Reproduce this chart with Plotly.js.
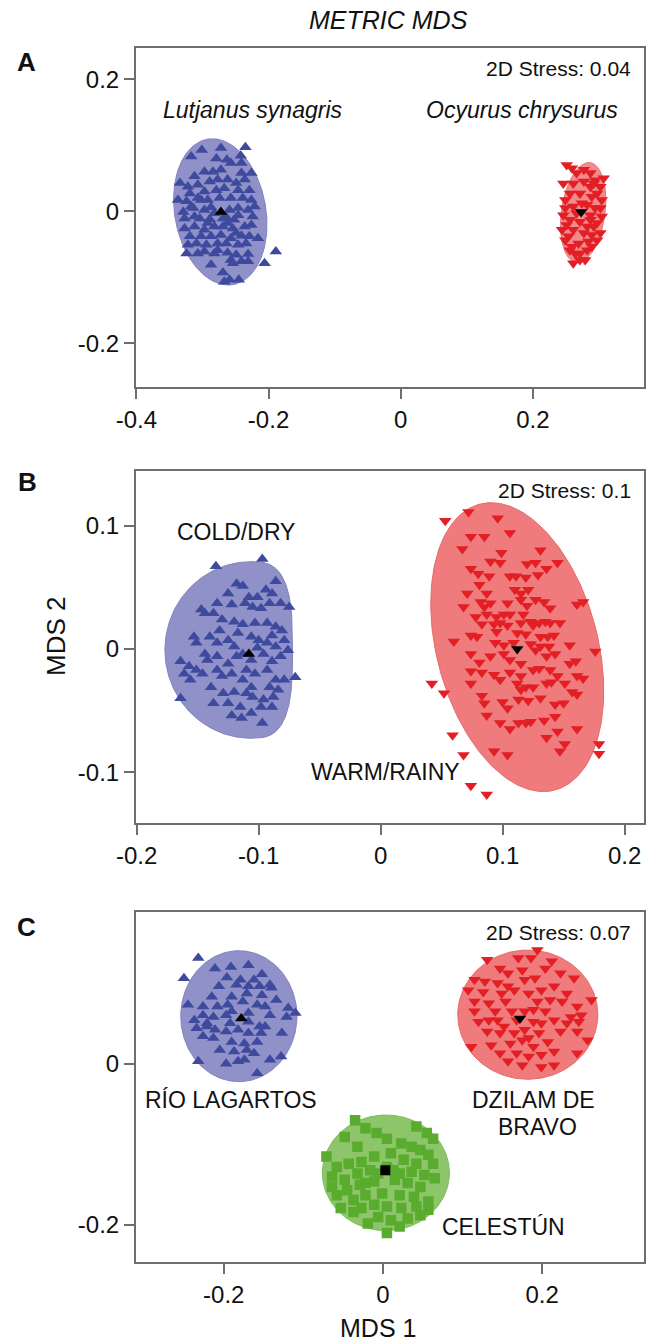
<!DOCTYPE html>
<html>
<head>
<meta charset="utf-8">
<script src="https://cdn.plot.ly/plotly-3.0.1.min.js"></script>
<style>html,body{margin:0;padding:0;background:#fff}#chart{width:653px;height:1343px}</style>
</head>
<body>
<div id="chart"></div>
<script>
// ---------------- DATA ----------------
// Panel A: species
const lutjanusX = [-0.317,-0.301,-0.272,-0.235,-0.263,-0.242,-0.279,-0.257,-0.241,-0.226,
-0.312,-0.297,-0.284,-0.272,-0.241,-0.334,-0.322,-0.307,-0.289,-0.277,
-0.262,-0.249,-0.236,-0.319,-0.297,-0.279,-0.267,-0.246,-0.229,-0.337,
-0.324,-0.307,-0.292,-0.257,-0.239,-0.226,-0.329,-0.314,-0.297,-0.287,
-0.259,-0.246,-0.231,-0.221,-0.327,-0.304,-0.289,-0.264,-0.252,-0.224,
-0.327,-0.312,-0.297,-0.282,-0.269,-0.254,-0.236,-0.226,-0.319,-0.302,
-0.287,-0.272,-0.257,-0.241,-0.229,-0.216,-0.322,-0.309,-0.294,-0.277,
-0.264,-0.246,-0.234,-0.324,-0.307,-0.297,-0.282,-0.262,-0.249,-0.231,
-0.241,-0.257,-0.231,-0.287,-0.269,-0.254,-0.259,-0.245,-0.206,-0.189,
-0.267,-0.302,-0.274,-0.282,-0.246,-0.312,-0.269,-0.292,-0.262,-0.249,
-0.277,-0.317];
const lutjanusY = [0.083,0.093,0.096,0.097,0.078,0.084,0.080,0.073,0.073,0.058,
0.053,0.060,0.060,0.063,0.058,0.043,0.037,0.040,0.045,0.048,
0.048,0.043,0.048,0.027,0.030,0.032,0.035,0.032,0.032,0.017,
0.015,0.020,0.017,0.020,0.020,0.017,-0.001,0.005,0.002,0.006,
0.002,0.005,0.002,0.007,-0.011,-0.011,-0.012,-0.009,-0.013,-0.008,
-0.026,-0.023,-0.028,-0.023,-0.023,-0.026,-0.023,-0.021,-0.038,-0.038,
-0.038,-0.036,-0.041,-0.037,-0.038,-0.041,-0.051,-0.049,-0.051,-0.049,
-0.049,-0.051,-0.049,-0.064,-0.064,-0.061,-0.064,-0.063,-0.066,-0.065,
-0.076,-0.074,-0.076,-0.081,-0.093,-0.079,-0.104,-0.104,-0.079,-0.061,
-0.107,0.017,0.020,-0.003,-0.006,-0.008,-0.011,-0.018,-0.018,-0.033,
-0.059,0.007];
const ocyurusX = [0.251,0.259,0.266,0.307,0.294,0.246,0.302,0.249,0.304,0.246,
0.304,0.244,0.302,0.249,0.297,0.256,0.282,0.261,0.271,0.292,
0.261,0.277,0.287,0.256,0.271,0.289,0.261,0.282,0.294,0.256,
0.271,0.287,0.261,0.277,0.289,0.254,0.269,0.284,0.264,0.279,
0.292,0.266,0.287,0.251,0.297,0.274,0.259,0.289,0.287,0.277,
0.297,0.249,0.302,0.282,0.271];
const ocyurusY = [0.070,0.065,0.058,0.050,0.047,0.042,0.037,0.017,0.017,-0.006,
-0.008,-0.028,-0.033,-0.044,-0.044,-0.059,-0.059,-0.079,-0.064,-0.023,
0.042,0.045,0.037,0.027,0.027,0.022,0.007,0.010,0.005,-0.013,
-0.016,-0.013,-0.028,-0.033,-0.036,-0.038,-0.049,-0.046,-0.064,-0.074,
0.042,-0.003,-0.006,-0.021,-0.018,0.012,-0.054,-0.054,0.058,0.063,
0.027,0.005,0.005,-0.023,-0.074];
const centroidsA_X = [-0.272, 0.273];
const centroidsA_Y = [-0.001, -0.001];

// Panel B: seasons
const coldX = [-0.135,-0.097,-0.118,-0.113,-0.094,-0.086,-0.089,-0.125,-0.108,-0.101,
-0.147,-0.144,-0.137,-0.134,-0.122,-0.111,-0.105,-0.098,-0.091,-0.082,
-0.075,-0.130,-0.120,-0.113,-0.103,-0.093,-0.086,-0.081,-0.153,-0.151,
-0.140,-0.132,-0.125,-0.117,-0.106,-0.100,-0.089,-0.079,-0.076,-0.164,
-0.157,-0.161,-0.142,-0.134,-0.125,-0.118,-0.106,-0.096,-0.089,-0.082,
-0.156,-0.139,-0.130,-0.122,-0.113,-0.103,-0.093,-0.086,-0.079,-0.070,
-0.164,-0.137,-0.129,-0.120,-0.110,-0.105,-0.096,-0.088,-0.125,-0.115,
-0.106,-0.098,-0.089,-0.122,-0.114,-0.097,-0.144,-0.120,-0.113,-0.101,
-0.086,-0.093,-0.134,-0.151,-0.110,-0.134,-0.106,-0.091,-0.084,-0.146];
const coldY = [0.067,0.073,0.053,0.051,0.048,0.055,0.045,0.045,0.042,0.042,
0.032,0.029,0.029,0.037,0.036,0.037,0.034,0.033,0.037,0.037,
0.034,0.024,0.022,0.020,0.021,0.021,0.018,0.015,0.010,0.005,
0.010,0.015,0.007,0.013,0.010,0.007,0.011,0.007,-0.001,-0.010,
-0.014,-0.020,-0.009,-0.006,-0.012,-0.006,-0.009,-0.004,-0.010,-0.006,
-0.025,-0.031,-0.022,-0.020,-0.025,-0.020,-0.017,-0.025,-0.025,-0.023,
-0.040,-0.044,-0.036,-0.035,-0.036,-0.039,-0.041,-0.039,-0.044,-0.047,
-0.052,-0.047,-0.047,-0.054,-0.056,-0.060,-0.004,0.002,-0.004,0.001,
0.002,0.005,0.005,-0.017,-0.017,-0.017,-0.031,-0.031,-0.033,-0.020];
const warmX = [0.053,0.072,0.096,0.106,0.074,0.085,0.067,0.099,0.131,0.090,
0.098,0.120,0.127,0.145,0.136,0.074,0.080,0.089,0.106,0.111,
0.119,0.129,0.081,0.110,0.121,0.115,0.071,0.087,0.068,0.082,
0.085,0.090,0.104,0.115,0.120,0.127,0.134,0.139,0.161,0.166,
0.078,0.087,0.095,0.101,0.106,0.117,0.123,0.130,0.135,0.139,
0.147,0.083,0.093,0.098,0.104,0.115,0.125,0.060,0.074,0.079,
0.095,0.112,0.119,0.131,0.137,0.142,0.094,0.101,0.109,0.123,
0.131,0.138,0.155,0.176,0.074,0.090,0.101,0.106,0.115,0.127,
0.136,0.143,0.155,0.160,0.081,0.083,0.074,0.093,0.098,0.106,
0.115,0.125,0.130,0.139,0.145,0.161,0.166,0.042,0.052,0.074,
0.112,0.119,0.125,0.136,0.140,0.151,0.157,0.161,0.115,0.083,
0.085,0.100,0.104,0.113,0.121,0.131,0.143,0.150,0.087,0.098,
0.106,0.113,0.119,0.123,0.134,0.143,0.145,0.161,0.059,0.136,
0.151,0.147,0.068,0.093,0.104,0.179,0.179,0.074,0.087];
const warmY = [0.104,0.111,0.106,0.094,0.091,0.091,0.081,0.078,0.080,0.071,
0.070,0.069,0.070,0.070,0.065,0.065,0.061,0.059,0.059,0.059,
0.058,0.060,0.052,0.048,0.048,0.045,0.045,0.045,0.034,0.038,
0.034,0.037,0.037,0.040,0.035,0.040,0.038,0.033,0.036,0.038,
0.026,0.028,0.026,0.028,0.028,0.028,0.022,0.021,0.022,0.021,
0.021,0.020,0.020,0.021,0.019,0.021,0.019,0.006,0.011,0.010,
0.014,0.013,0.012,0.010,0.010,0.011,0.005,0.003,0.005,0.004,
0.002,0.002,0.003,-0.002,-0.004,-0.006,-0.004,-0.009,-0.012,-0.001,
-0.006,-0.004,-0.012,-0.010,-0.011,-0.019,-0.018,-0.021,-0.025,-0.019,
-0.022,-0.017,-0.016,-0.017,-0.022,-0.022,-0.024,-0.028,-0.036,-0.028,
-0.028,-0.031,-0.031,-0.028,-0.027,-0.028,-0.035,-0.037,-0.033,-0.038,
-0.044,-0.043,-0.048,-0.041,-0.042,-0.040,-0.045,-0.044,-0.054,-0.060,
-0.065,-0.060,-0.060,-0.059,-0.058,-0.055,-0.067,-0.065,-0.070,-0.072,
-0.077,-0.083,-0.086,-0.083,-0.086,-0.077,-0.085,-0.111,-0.118];
const centroidsB_X = [-0.108, 0.112];
const centroidsB_Y = [-0.004, 0.000];

// Panel C: localities
const rioX = [-0.232,-0.250,-0.211,-0.191,-0.169,-0.152,-0.196,-0.179,-0.162,-0.142,
-0.206,-0.184,-0.169,-0.155,-0.140,-0.215,-0.190,-0.171,-0.152,-0.134,
-0.245,-0.226,-0.208,-0.195,-0.158,-0.148,-0.119,-0.110,-0.226,-0.213,
-0.197,-0.169,-0.142,-0.121,-0.237,-0.221,-0.192,-0.169,-0.155,-0.197,
-0.182,-0.169,-0.153,-0.127,-0.226,-0.213,-0.190,-0.174,-0.158,-0.205,
-0.187,-0.171,-0.162,-0.142,-0.128,-0.232,-0.197,-0.182,-0.174,-0.158,
-0.221,-0.234,-0.211,-0.148,-0.190,-0.176];
const rioY = [0.131,0.106,0.118,0.120,0.122,0.111,0.107,0.104,0.104,0.098,
0.096,0.098,0.096,0.096,0.094,0.083,0.083,0.087,0.085,0.079,
0.073,0.071,0.071,0.073,0.073,0.071,0.069,0.063,0.060,0.058,
0.060,0.063,0.060,0.058,0.054,0.050,0.050,0.052,0.046,0.040,
0.042,0.038,0.038,0.038,0.034,0.032,0.027,0.025,0.027,0.017,
0.015,0.017,0.013,0.005,0.009,0.003,0.000,0.003,0.005,-0.012,
0.046,0.044,0.042,0.046,0.065,0.077];
const dzilamX = [0.194,0.131,0.170,0.186,0.212,0.147,0.157,0.175,0.204,0.223,
0.240,0.115,0.128,0.144,0.157,0.178,0.191,0.215,0.107,0.126,
0.149,0.165,0.183,0.199,0.231,0.262,0.115,0.133,0.154,0.194,
0.210,0.225,0.244,0.115,0.141,0.162,0.189,0.204,0.236,0.249,
0.120,0.133,0.152,0.189,0.199,0.215,0.231,0.246,0.131,0.147,
0.165,0.178,0.196,0.223,0.244,0.111,0.136,0.160,0.175,0.189,
0.207,0.257,0.147,0.168,0.183,0.199,0.215,0.244,0.157,0.175,
0.199,0.215,0.183,0.168,0.144,0.178];
const dzilamY = [0.141,0.129,0.131,0.131,0.127,0.118,0.112,0.116,0.118,0.112,
0.106,0.104,0.102,0.100,0.096,0.104,0.106,0.096,0.091,0.089,
0.087,0.091,0.087,0.091,0.087,0.079,0.077,0.075,0.077,0.077,
0.079,0.077,0.071,0.065,0.065,0.065,0.067,0.065,0.058,0.060,
0.052,0.054,0.046,0.052,0.050,0.054,0.050,0.052,0.040,0.038,
0.038,0.042,0.038,0.040,0.040,0.021,0.023,0.025,0.029,0.021,
0.027,0.029,0.013,0.013,0.009,0.011,0.015,0.013,0.003,-0.002,
-0.004,-0.002,0.032,0.054,0.054,0.065];
const celestunX = [-0.035,-0.022,0.042,0.055,0.063,-0.071,-0.048,-0.032,-0.008,0.005,
0.023,0.036,0.047,0.057,-0.058,-0.043,-0.027,-0.011,0.010,0.026,
0.042,0.063,-0.064,-0.048,-0.032,-0.016,0.005,0.021,0.036,0.052,
0.065,-0.064,-0.045,-0.029,-0.011,0.015,0.031,0.047,-0.058,-0.037,
-0.022,-0.001,0.021,0.039,0.057,-0.027,-0.011,0.005,0.023,0.042,
-0.037,-0.006,0.010,0.031,0.047,0.057,0.005,-0.053,0.021,-0.019,
0.013,-0.006,-0.022];
const celestunY = [-0.070,-0.080,-0.078,-0.086,-0.093,-0.115,-0.091,-0.103,-0.086,-0.093,
-0.099,-0.103,-0.107,-0.113,-0.128,-0.124,-0.122,-0.115,-0.111,-0.119,
-0.124,-0.124,-0.140,-0.144,-0.136,-0.132,-0.128,-0.136,-0.134,-0.138,
-0.142,-0.153,-0.157,-0.150,-0.146,-0.144,-0.148,-0.153,-0.163,-0.169,
-0.163,-0.161,-0.163,-0.165,-0.171,-0.179,-0.175,-0.177,-0.179,-0.177,
-0.184,-0.190,-0.194,-0.192,-0.188,-0.181,-0.210,-0.179,-0.202,-0.198,
-0.132,-0.136,-0.148];
const centroidsC_X = [-0.178, 0.172, 0.003];
const centroidsC_Y = [0.056, 0.056, -0.132];

// Group envelopes: [centre x, centre y, left half-width, right half-width, half-height, left exponent, right exponent, tilt deg]
const envLutjanus = [-0.273, -0.001, 0.069, 0.069, 0.112, 2, 2, 10];
const envOcyurus  = [0.276, -0.002, 0.033, 0.033, 0.0765, 2, 2, -8];
const envCold     = [-0.1063, -0.0008, 0.0705, 0.0341, 0.0716, 2, 3, 0];
const envWarm     = [0.112, 0.0015, 0.066, 0.066, 0.120, 2, 2, 15];
const envRio      = [-0.181, 0.0589, 0.073, 0.073, 0.0812, 2, 2, 0];
const envDzilam   = [0.1819, 0.0608, 0.088, 0.088, 0.0801, 2, 2, 0];
const envCelestun = [0.0037, -0.1353, 0.0798, 0.0798, 0.0717, 2, 2, 0];

// Axis ticks
const ticksAx = [-0.4, -0.2, 0, 0.2], ticksAxText = ['-0.4', '-0.2', '0', '0.2'];
const ticksAy = [-0.2, 0, 0.2], ticksAyText = ['-0.2', '0', '0.2'];
const ticksBx = [-0.2, -0.1, 0, 0.1, 0.2], ticksBxText = ['-0.2', '-0.1', '0', '0.1', '0.2'];
const ticksBy = [-0.1, 0, 0.1], ticksByText = ['-0.1', '0', '0.1'];
const ticksCx = [-0.2, 0, 0.2], ticksCxText = ['-0.2', '0', '0.2'];
const ticksCy = [-0.2, 0], ticksCyText = ['-0.2', '0'];

// ---------------- DRAWING ----------------
const BLUE = '#3e4a9d', RED = '#e31e25', GREEN = '#5aac2e';
const BLUE_F = '#9191c9', RED_F = '#ef7b7c', RED_FA = '#f08a8b', GREEN_F = '#8dc56b';

function envelope(p) {
  const [cx, cy, wl, wr, h, nl, nr, ang] = p;
  const th = ang * Math.PI / 180, xs = [], ys = [];
  for (let i = 0; i <= 240; i++) {
    const t = 2 * Math.PI * i / 240, c = Math.cos(t), s = Math.sin(t);
    const right = c >= 0, n = right ? nr : nl, w = right ? wr : wl;
    const px = w * Math.sign(c) * Math.pow(Math.abs(c), 2 / n);
    const py = h * Math.sign(s) * Math.pow(Math.abs(s), 2 / n);
    xs.push(cx + px * Math.cos(th) - py * Math.sin(th));
    ys.push(cy + px * Math.sin(th) + py * Math.cos(th));
  }
  return [xs, ys];
}
function envTrace(p, fill, line, xa, ya) {
  const [xs, ys] = envelope(p);
  return {x: xs, y: ys, xaxis: xa, yaxis: ya, mode: 'lines', fill: 'toself',
    fillcolor: fill, line: {color: line, width: 1}, hoverinfo: 'skip', type: 'scatter'};
}
function ptTrace(x, y, sym, col, size, xa, ya) {
  return {x: x, y: y, xaxis: xa, yaxis: ya, mode: 'markers', type: 'scatter',
    marker: {symbol: sym, color: col, size: size, line: {width: 0}}, hoverinfo: 'skip'};
}

const TS = 11, SQ = 10.5, CS = 11;
const traces = [
  envTrace(envLutjanus, BLUE_F, '#8282c0', 'x', 'y'),
  envTrace(envOcyurus, RED_FA, '#ea7676', 'x', 'y'),
  ptTrace(lutjanusX, lutjanusY, 'triangle-up', BLUE, TS, 'x', 'y'),
  ptTrace(ocyurusX, ocyurusY, 'triangle-down', RED, TS, 'x', 'y'),
  ptTrace(centroidsA_X.slice(0,1), centroidsA_Y.slice(0,1), 'triangle-up', '#000', CS, 'x', 'y'),
  ptTrace(centroidsA_X.slice(1), centroidsA_Y.slice(1), 'triangle-down', '#000', CS, 'x', 'y'),

  envTrace(envCold, BLUE_F, '#8282c0', 'x2', 'y2'),
  envTrace(envWarm, RED_F, '#e46a6a', 'x2', 'y2'),
  ptTrace(coldX, coldY, 'triangle-up', BLUE, TS, 'x2', 'y2'),
  ptTrace(warmX, warmY, 'triangle-down', RED, TS, 'x2', 'y2'),
  ptTrace(centroidsB_X.slice(0,1), centroidsB_Y.slice(0,1), 'triangle-up', '#000', CS, 'x2', 'y2'),
  ptTrace(centroidsB_X.slice(1), centroidsB_Y.slice(1), 'triangle-down', '#000', CS, 'x2', 'y2'),

  envTrace(envRio, BLUE_F, '#8282c0', 'x3', 'y3'),
  envTrace(envDzilam, RED_F, '#e46a6a', 'x3', 'y3'),
  envTrace(envCelestun, GREEN_F, '#7fbb5c', 'x3', 'y3'),
  ptTrace(rioX, rioY, 'triangle-up', BLUE, TS, 'x3', 'y3'),
  ptTrace(dzilamX, dzilamY, 'triangle-down', RED, TS, 'x3', 'y3'),
  ptTrace(celestunX, celestunY, 'square', GREEN, SQ, 'x3', 'y3'),
  ptTrace(centroidsC_X.slice(0,1), centroidsC_Y.slice(0,1), 'triangle-up', '#000', CS, 'x3', 'y3'),
  ptTrace(centroidsC_X.slice(1,2), centroidsC_Y.slice(1,2), 'triangle-down', '#000', CS, 'x3', 'y3'),
  ptTrace(centroidsC_X.slice(2), centroidsC_Y.slice(2), 'square', '#000', 10, 'x3', 'y3')
];

const W = 653, H = 1343;
const FONT = '"Liberation Sans", Arial, Helvetica, sans-serif';
function ax(range, domain, tv, tt, anchor) {
  return {range: range, domain: domain, anchor: anchor, tickmode: 'array', tickvals: tv, ticktext: tt,
    showline: true, mirror: true, linecolor: '#6e6e6e', linewidth: 2,
    ticks: 'outside', ticklen: 10, tickwidth: 2, tickcolor: '#6e6e6e',
    showgrid: false, zeroline: false, fixedrange: true,
    tickfont: {family: FONT, size: 24, color: '#111'}};
}
const xd = [136 / W, 644 / W];
function yd(top, bottom) { return [1 - bottom / H, 1 - top / H]; }

function ann(text, px, py, size, opts) {
  return Object.assign({text: text, x: px / W, y: 1 - py / H, xref: 'paper', yref: 'paper',
    showarrow: false, xanchor: 'center', yanchor: 'middle',
    font: {family: FONT, size: size, color: '#111'}}, opts || {});
}
const annotations = [
  ann('<i>METRIC MDS</i>', 388, 20, 25),
  ann('<b>A</b>', 26, 62, 26),
  ann('2D Stress: 0.04', 633, 68, 21, {xanchor: 'right'}),
  ann('<i>Lutjanus synagris</i>', 252, 110, 23),
  ann('<i>Ocyurus chrysurus</i>', 522, 110, 23),
  ann('<b>B</b>', 27, 482, 26),
  ann('2D Stress: 0.1', 633, 491, 21, {xanchor: 'right'}),
  ann('COLD/DRY', 236, 532, 23),
  ann('WARM/RAINY', 386, 772, 23),
  ann('MDS 2', 56, 637, 26, {textangle: -90}),
  ann('<b>C</b>', 26, 927, 26),
  ann('2D Stress: 0.07', 633, 932, 21, {xanchor: 'right'}),
  ann('RÍO LAGARTOS', 231, 1100, 23),
  ann('DZILAM DE', 533, 1100, 23),
  ann('BRAVO', 537, 1127, 23),
  ann('CELESTÚN', 503, 1227, 23),
  ann('MDS 1', 378, 1328, 25)
];

const layout = {
  width: W, height: H, margin: {l: 0, r: 0, t: 0, b: 0},
  paper_bgcolor: '#fff', plot_bgcolor: '#fff', showlegend: false,
  font: {family: FONT},
  xaxis: ax([-0.4005, 0.368], xd, ticksAx, ticksAxText, 'y'),
  yaxis: ax([-0.267, 0.248], yd(47.7, 387.3), ticksAy, ticksAyText, 'x'),
  xaxis2: ax([-0.2005, 0.2159], xd, ticksBx, ticksBxText, 'y2'),
  yaxis2: ax([-0.1414, 0.1446], yd(470.7, 823.3), ticksBy, ticksByText, 'x2'),
  xaxis3: ax([-0.3102, 0.3279], xd, ticksCx, ticksCxText, 'y3'),
  yaxis3: ax([-0.2455, 0.1877], yd(912.3, 1261.7), ticksCy, ticksCyText, 'x3'),
  annotations: annotations
};
Plotly.newPlot('chart', traces, layout, {staticPlot: true, displayModeBar: false});
</script>
</body>
</html>
